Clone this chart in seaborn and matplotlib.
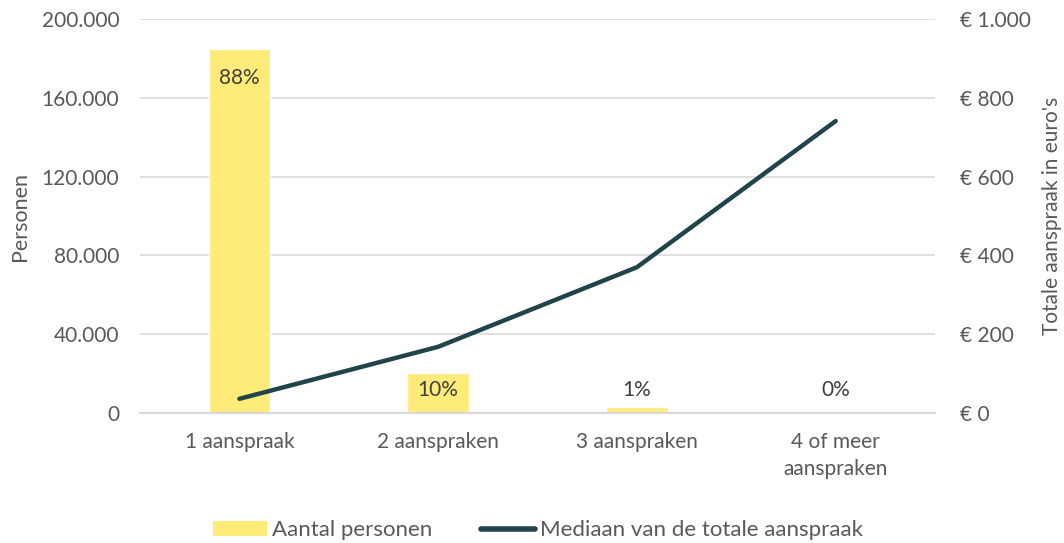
import matplotlib
matplotlib.use("Agg")
import matplotlib.pyplot as plt
import matplotlib.ticker as mticker
from matplotlib.patches import Patch
from matplotlib.lines import Line2D
import pandas as pd
import seaborn as sns

# data
categories = ["1 aanspraak", "2 aanspraken", "3 aanspraken", "4 of meer\naanspraken"]
personen = [185000, 20500, 2800, 1000]
pct_labels = ["88%", "10%", "1%", "0%"]
mediaan = [36, 168, 370, 741]

bar_color = "#FFEB78"
line_color = "#21434A"
text_color = "#595959"
grid_color = "#D9D9D9"

sns.set_theme(style="white")
plt.rcParams["font.family"] = ["Lato", "DejaVu Sans"]
plt.rcParams["font.size"] = 15

df = pd.DataFrame({"cat": categories, "personen": personen, "mediaan": mediaan})

fig = plt.figure(figsize=(10.64, 5.43), dpi=100)
ax = fig.add_axes([0.1316, 0.2394, 0.7472, 0.7256])

sns.barplot(data=df, x="cat", y="personen", color=bar_color, width=0.31,
            saturation=1, ax=ax, zorder=2)
ax.set_ylim(0, 200000)
ax.set_xlim(-0.5, 3.5)
ax.yaxis.set_major_locator(mticker.MultipleLocator(40000))
ax.yaxis.set_major_formatter(mticker.FuncFormatter(
    lambda v, p: f"{int(v):,}".replace(",", ".")))
ax.grid(axis="y", color=grid_color, linewidth=1.2, zorder=0)
ax.set_axisbelow(True)
for s in ["top", "right", "left"]:
    ax.spines[s].set_visible(False)
ax.spines["bottom"].set_color(grid_color)
ax.spines["bottom"].set_linewidth(1.5)
ax.tick_params(axis="both", length=0, colors=text_color, labelsize=15)
ax.tick_params(axis="y", pad=15)
ax.tick_params(axis="x", pad=14)
for t in ax.get_xticklabels():
    t.set_linespacing(1.4)
ax.set_xlabel("")
ax.set_ylabel("Personen", color=text_color, fontsize=15.5, labelpad=8)

# percentage labels
for i, (v, lab) in enumerate(zip(personen, pct_labels)):
    ax.text(i, max(v - 15000, 11700), lab, ha="center", va="center",
            color="#404040", fontsize=15, zorder=5)

ax2 = ax.twinx()
sns.lineplot(data=df, x="cat", y="mediaan", color=line_color, linewidth=3.2,
             ax=ax2, solid_capstyle="round")
ax2.set_ylim(0, 1000)
ax2.yaxis.set_major_locator(mticker.MultipleLocator(200))
ax2.yaxis.set_major_formatter(mticker.FuncFormatter(
    lambda v, p: "€ " + f"{int(v):,}".replace(",", ".")))
for s in ["top", "right", "left", "bottom"]:
    ax2.spines[s].set_visible(False)
ax2.tick_params(axis="y", length=0, colors=text_color, labelsize=15, pad=18)
ax2.set_ylabel("Totale aanspraak in euro's", color=text_color, fontsize=15,
               labelpad=8)
ax2.set_xlim(-0.5, 3.5)

handles = [Patch(facecolor=bar_color, edgecolor="none"),
           Line2D([], [], color=line_color, linewidth=4, solid_capstyle="round")]
fig.legend(handles, ["Aantal personen", "Mediaan van de totale aanspraak"],
           loc="lower center", bbox_to_anchor=(0.506, -0.032), ncol=2, frameon=False,
           fontsize=16, labelcolor=text_color, handlelength=2.4,
           handletextpad=0.25, columnspacing=2.2)

fig.savefig("out.png", dpi=100)
